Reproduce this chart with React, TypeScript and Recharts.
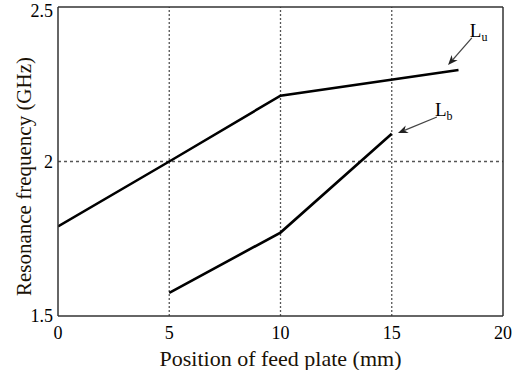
import { LineChart, Line, XAxis, YAxis, ReferenceLine } from "recharts";

const xTicks = [0, 5, 10, 15, 20];
const yTicks = [1.5, 2, 2.5];

const luPosition = [0, 5, 10, 18];
const luFreq = [1.79, 2.0, 2.213, 2.296];

const lbPosition = [5, 10, 15];
const lbFreq = [1.575, 1.77, 2.09];

const gridX = [5, 10, 15];
const gridY = [2];

// arrow annotations: label subscript, tail [x, y], head [x, y]
const arrowLabels = ["u", "b"];
const arrowTails = [
  [18.6, 2.4],
  [17.03, 2.144],
];
const arrowHeads = [
  [17.53, 2.312],
  [15.28, 2.092],
];

const luData = luPosition.map((x, i) => ({ x, y: luFreq[i] }));
const lbData = lbPosition.map((x, i) => ({ x, y: lbFreq[i] }));

const font = "'Liberation Serif', 'Times New Roman', serif";

function Arrow(props: any) {
  const { x1, y1, x2, y2, sub } = props;
  const ang = Math.atan2(y2 - y1, x2 - x1);
  const len = 10;
  const w = 4;
  const bx = x2 - len * Math.cos(ang);
  const by = y2 - len * Math.sin(ang);
  const nx = -Math.sin(ang) * w;
  const ny = Math.cos(ang) * w;
  const notchX = x2 - len * 0.7 * Math.cos(ang);
  const notchY = y2 - len * 0.7 * Math.sin(ang);
  return (
    <g>
      <line x1={x1} y1={y1} x2={notchX} y2={notchY} stroke="#444" strokeWidth={1.3} />
      <polygon
        points={`${x2},${y2} ${bx + nx},${by + ny} ${notchX},${notchY} ${bx - nx},${by - ny}`}
        fill="#222"
      />
      <text x={x1 - 2} y={y1 - 1} fontFamily={font} fontSize={19} fill="#000">
        L
        <tspan fontSize={12} dy={4}>
          {sub}
        </tspan>
      </text>
    </g>
  );
}

export default function App() {
  return (
    <div style={{ position: "absolute", left: 0, top: 0, background: "#fff" }}>
      <LineChart width={520} height={370} margin={{ top: 7, right: 17, left: 0, bottom: 0 }}>
        <XAxis
          type="number"
          dataKey="x"
          domain={[0, 20]}
          ticks={xTicks}
          allowDataOverflow
          height={54}
          tickSize={0}
          tickMargin={10}
          tickLine={false}
          stroke="#333"
          strokeWidth={1.5}
          tick={{ fill: "#000", fontSize: 18, fontFamily: font }}
          label={{
            value: "Position of feed plate (mm)",
            position: "insideBottom",
            offset: 4,
            fill: "#1a1206",
            fontSize: 22,
            fontFamily: font,
          }}
        />
        <YAxis
          type="number"
          domain={[1.5, 2.5]}
          ticks={yTicks}
          allowDataOverflow
          width={58}
          tickSize={0}
          tickMargin={5}
          tickLine={false}
          stroke="#333"
          strokeWidth={1.5}
          tick={{ fill: "#000", fontSize: 18, fontFamily: font }}
          label={{
            content: (p: any) => {
              const vb = p.viewBox;
              const cx = vb.x + 24;
              const cy = vb.y + vb.height / 2 + 15;
              return (
                <text
                  x={cx}
                  y={cy}
                  transform={`rotate(-90 ${cx} ${cy})`}
                  textAnchor="middle"
                  dominantBaseline="central"
                  fontFamily={font}
                  fontSize={21}
                  fill="#1a1206"
                >
                  Resonance frequency (GHz)
                </text>
              );
            },
          }}
        />
        {gridX.map((v) => (
          <ReferenceLine key={`gx${v}`} x={v} stroke="#555" strokeDasharray="2 2" strokeWidth={1.3} />
        ))}
        {gridY.map((v) => (
          <ReferenceLine key={`gy${v}`} y={v} stroke="#555" strokeDasharray="3 3" strokeWidth={1.3} />
        ))}
        <ReferenceLine x={20} stroke="#333" strokeWidth={1.5} />
        <ReferenceLine y={2.5} stroke="#333" strokeWidth={1.5} />
        <Line
          data={luData}
          dataKey="y"
          type="linear"
          stroke="#000"
          strokeWidth={2.6}
          dot={false}
          isAnimationActive={false}
        />
        <Line
          data={lbData}
          dataKey="y"
          type="linear"
          stroke="#000"
          strokeWidth={2.6}
          dot={false}
          isAnimationActive={false}
        />
        {arrowLabels.map((sub, i) => (
          <ReferenceLine
            key={`a${sub}`}
            segment={[
              { x: arrowTails[i][0], y: arrowTails[i][1] },
              { x: arrowHeads[i][0], y: arrowHeads[i][1] },
            ]}
            shape={(p: any) => <Arrow {...p} sub={sub} />}
          />
        ))}
      </LineChart>
    </div>
  );
}
